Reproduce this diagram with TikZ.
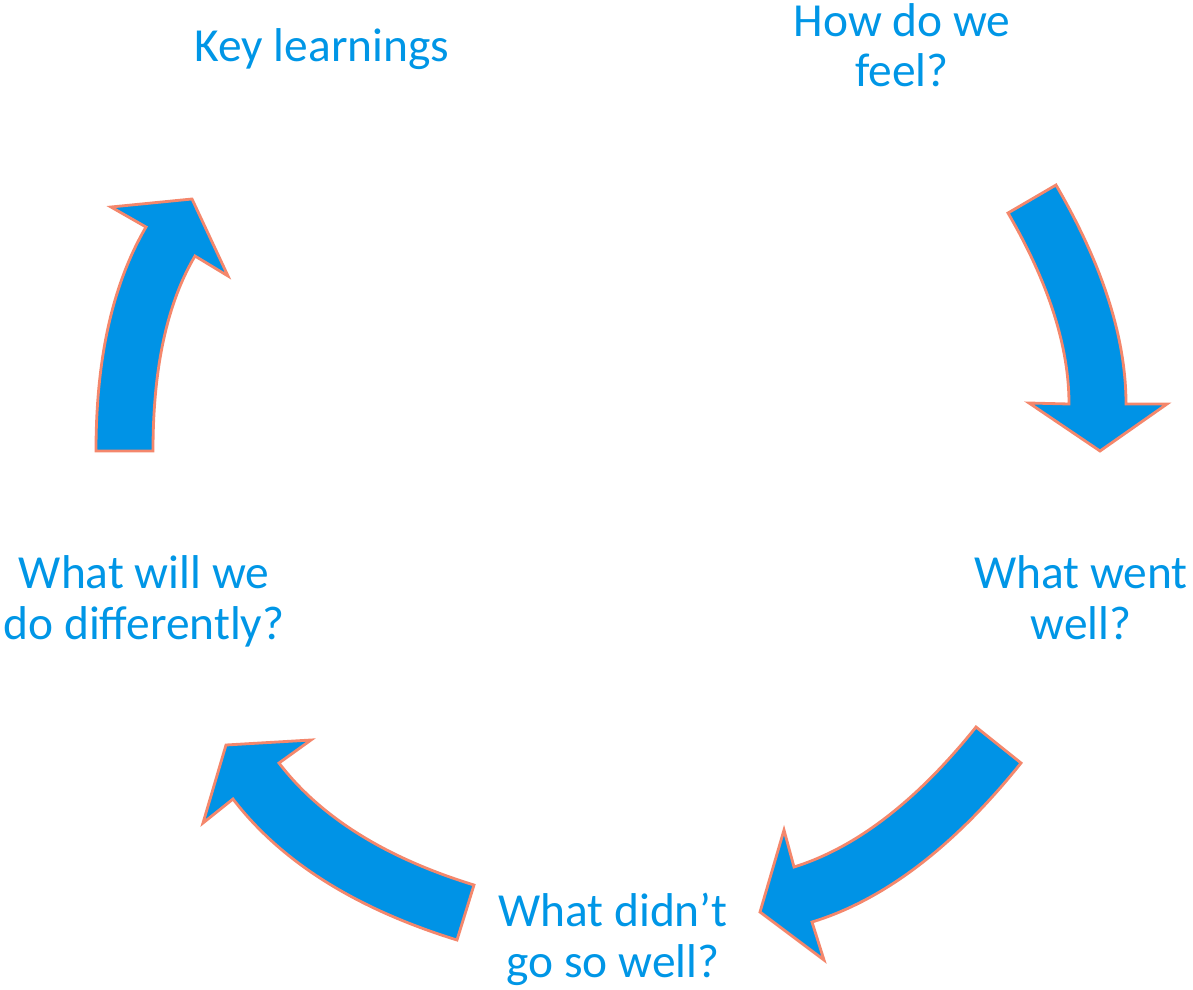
\documentclass[tikz,border=0pt]{standalone}
\usepackage{fontspec}
\setmainfont{Carlito}
\definecolor{cycleblue}{RGB}{0,147,230}
\definecolor{labelblue}{RGB}{0,150,230}
\definecolor{rim}{RGB}{244,135,108}
\begin{document}
\begin{tikzpicture}[x=0.02cm, y=-0.02cm,
  bentarrow/.style={fill=cycleblue, draw=rim, line width=1.6pt, line join=miter},
  stage/.style={text=labelblue, align=center, inner sep=0pt, anchor=base,
    font=\fontsize{27}{29}\selectfont}]
\useasboundingbox (0,0) rectangle (1193,990);

% stage labels around the cycle (anchored on the baseline of the last line)
\node[stage] (feel)    at (902,87)   {How do we\\feel?};
\node[stage] (well)    at (1081,639) {What went\\well?};
\node[stage] (notwell) at (613,977)  {What didn’t\\go so well?};
\node[stage] (diff)    at (144,639)  {What will we\\do differently?};
\node[stage] (learn)   at (322,62)   {Key learnings};

% curved arrow: feelings -> went well
\draw[bentarrow] (1008,213) -- (1056,185)
  .. controls (1102.7,265) and (1126,338) .. (1126,404)
  -- (1167,404) -- (1100,451) -- (1029,403) -- (1069,404)
  .. controls (1069,346.7) and (1048.7,283) .. (1008,213) -- cycle;

% curved arrow: went well -> didn't go so well
\draw[bentarrow] (976,727) -- (1021,763)
  .. controls (953.7,847) and (884,900) .. (812,922)
  -- (824,960) -- (760,912) -- (784,830) -- (794,867)
  .. controls (856,847.7) and (916.7,801) .. (976,727) -- cycle;

% curved arrow: didn't go so well -> do differently
\draw[bentarrow] (474,885) -- (457,940)
  .. controls (355.7,908.7) and (281,861.7) .. (233,799)
  -- (203,823) -- (226,745) -- (311,740) -- (279,763)
  .. controls (320.3,817) and (385.3,857.7) .. (474,885) -- cycle;

% curved arrow: do differently -> key learnings
\draw[bentarrow] (153,451) -- (96,451)
  .. controls (96,358.3) and (112.7,283.7) .. (146,227)
  -- (111,207) -- (192,199) -- (228,276) -- (195,256)
  .. controls (167,303.3) and (153,368.3) .. (153,451) -- cycle;
\end{tikzpicture}
\end{document}
